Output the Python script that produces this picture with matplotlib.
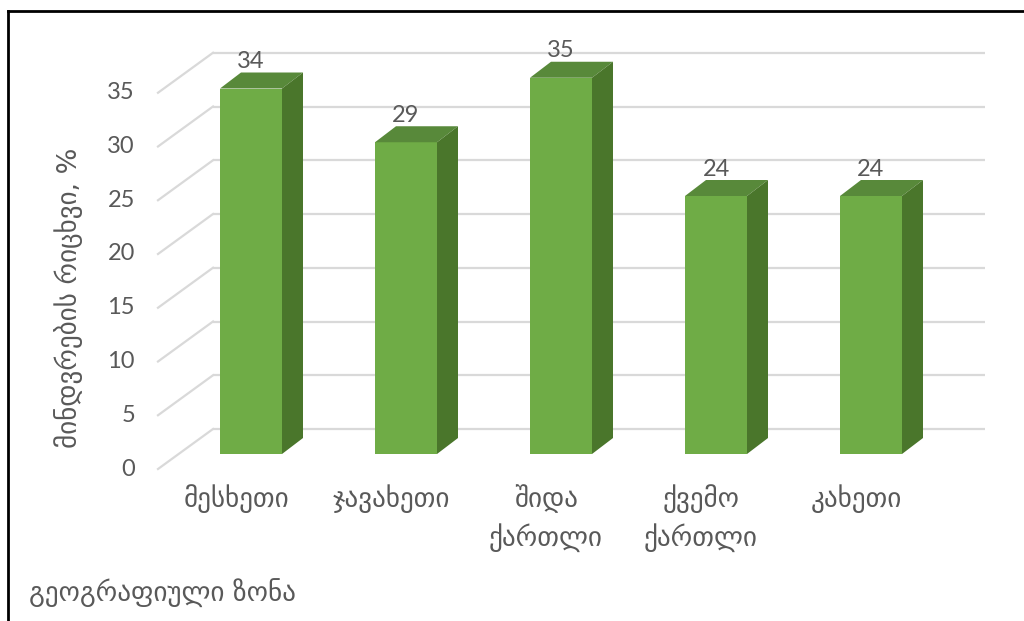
import matplotlib
matplotlib.use("Agg")
import matplotlib.pyplot as plt
from matplotlib.patches import Polygon
from matplotlib.lines import Line2D

# ---- data ----
categories = ["მესხეთი", "ჯავახეთი", "შიდა\nქართლი", "ქვემო\nქართლი", "კახეთი"]
values = [34, 29, 35, 24, 24]
y_ticks = [0, 5, 10, 15, 20, 25, 30, 35]
y_label = "მინდვრების რიცხვი, %"
x_label = "გეოგრაფიული ზონა"

# ---- style ----
FRONT = "#6fac46"
TOP = "#58893a"
SIDE = "#4a762b"
GRID = "#d9d9d9"
TEXT = "#595959"
GEO_FONT = ["DejaVu Sans"]
NUM_FONT = ["Lato", "DejaVu Sans"]
GEO_SIZE = 19.5
NUM_SIZE = 17

W, H = 1024, 621
fig = plt.figure(figsize=(W / 100, H / 100), dpi=100)
ax = fig.add_axes([0, 0, 1, 1])
ax.axis("off")

# pixel layout -> data units
X0, XS = 251, 155.0   # first bar centre px, px per category
Y0, YS = 454, 10.75   # bar-plane zero px, px per unit
ax.set_xlim(-X0 / XS, (W - X0) / XS)
ax.set_ylim((Y0 - H) / YS, Y0 / YS)

bar_w = 0.4
d_dx, d_dy = 21 / XS, 16 / YS            # bar depth
front_dx, front_dy = (158 - 179) / XS, -15 / YS   # front floor edge rel. to bar plane
back_dx, back_dy = (213 - 179) / XS, 25 / YS      # back wall rel. to bar plane
x_start = (179 - X0) / XS
back_end = (985 - X0) / XS

# gridlines
for v in y_ticks:
    ax.plot([x_start + back_dx, back_end], [v + back_dy, v + back_dy],
            color=GRID, lw=1.6, zorder=1, solid_capstyle="butt")
    ax.plot([x_start + front_dx, x_start + back_dx], [v + front_dy, v + back_dy],
            color=GRID, lw=1.6, zorder=1)
    ax.text(x_start + front_dx - 23 / XS, v + front_dy, str(v), ha="right", va="center",
            color=TEXT, fontsize=NUM_SIZE, family=NUM_FONT)

# bars
xs = list(range(len(values)))
ax.bar(xs, values, width=bar_w, color=FRONT, zorder=3, linewidth=0)
for x, v in zip(xs, values):
    l, r = x - bar_w / 2, x + bar_w / 2
    top = Polygon([(l, v), (r, v), (r + d_dx, v + d_dy), (l + d_dx, v + d_dy)],
                  closed=True, facecolor=TOP, edgecolor="none", zorder=3)
    side = Polygon([(r, 0), (r, v), (r + d_dx, v + d_dy), (r + d_dx, d_dy)],
                   closed=True, facecolor=SIDE, edgecolor="none", zorder=3)
    ax.add_patch(top)
    ax.add_patch(side)
    ax.text(x, v + 27 / YS, str(v), ha="center", va="center",
            color=TEXT, fontsize=NUM_SIZE, family=NUM_FONT, zorder=4)

# category labels
for x, c in zip(xs, categories):
    ax.text(x - 15 / XS, (Y0 - 484) / YS, c, ha="center", va="top",
            color=TEXT, fontsize=GEO_SIZE, family=GEO_FONT, linespacing=1.45)

# axis titles
ax.text((29 - X0) / XS, (Y0 - 593) / YS, x_label, ha="left", va="center",
        color=TEXT, fontsize=GEO_SIZE, family=GEO_FONT)
ax.text((69 - X0) / XS, (Y0 - 298) / YS, y_label, ha="center", va="center",
        rotation=90, color=TEXT, fontsize=GEO_SIZE, family=GEO_FONT)

# frame (left and top edges of the cropped border)
fig.add_artist(Line2D([8 / W, 8 / W], [0, 1 - 11 / H], transform=fig.transFigure,
                      color="black", lw=2))
fig.add_artist(Line2D([8 / W, 1], [1 - 11 / H, 1 - 11 / H], transform=fig.transFigure,
                      color="black", lw=2))

fig.savefig("out.png", dpi=100)
